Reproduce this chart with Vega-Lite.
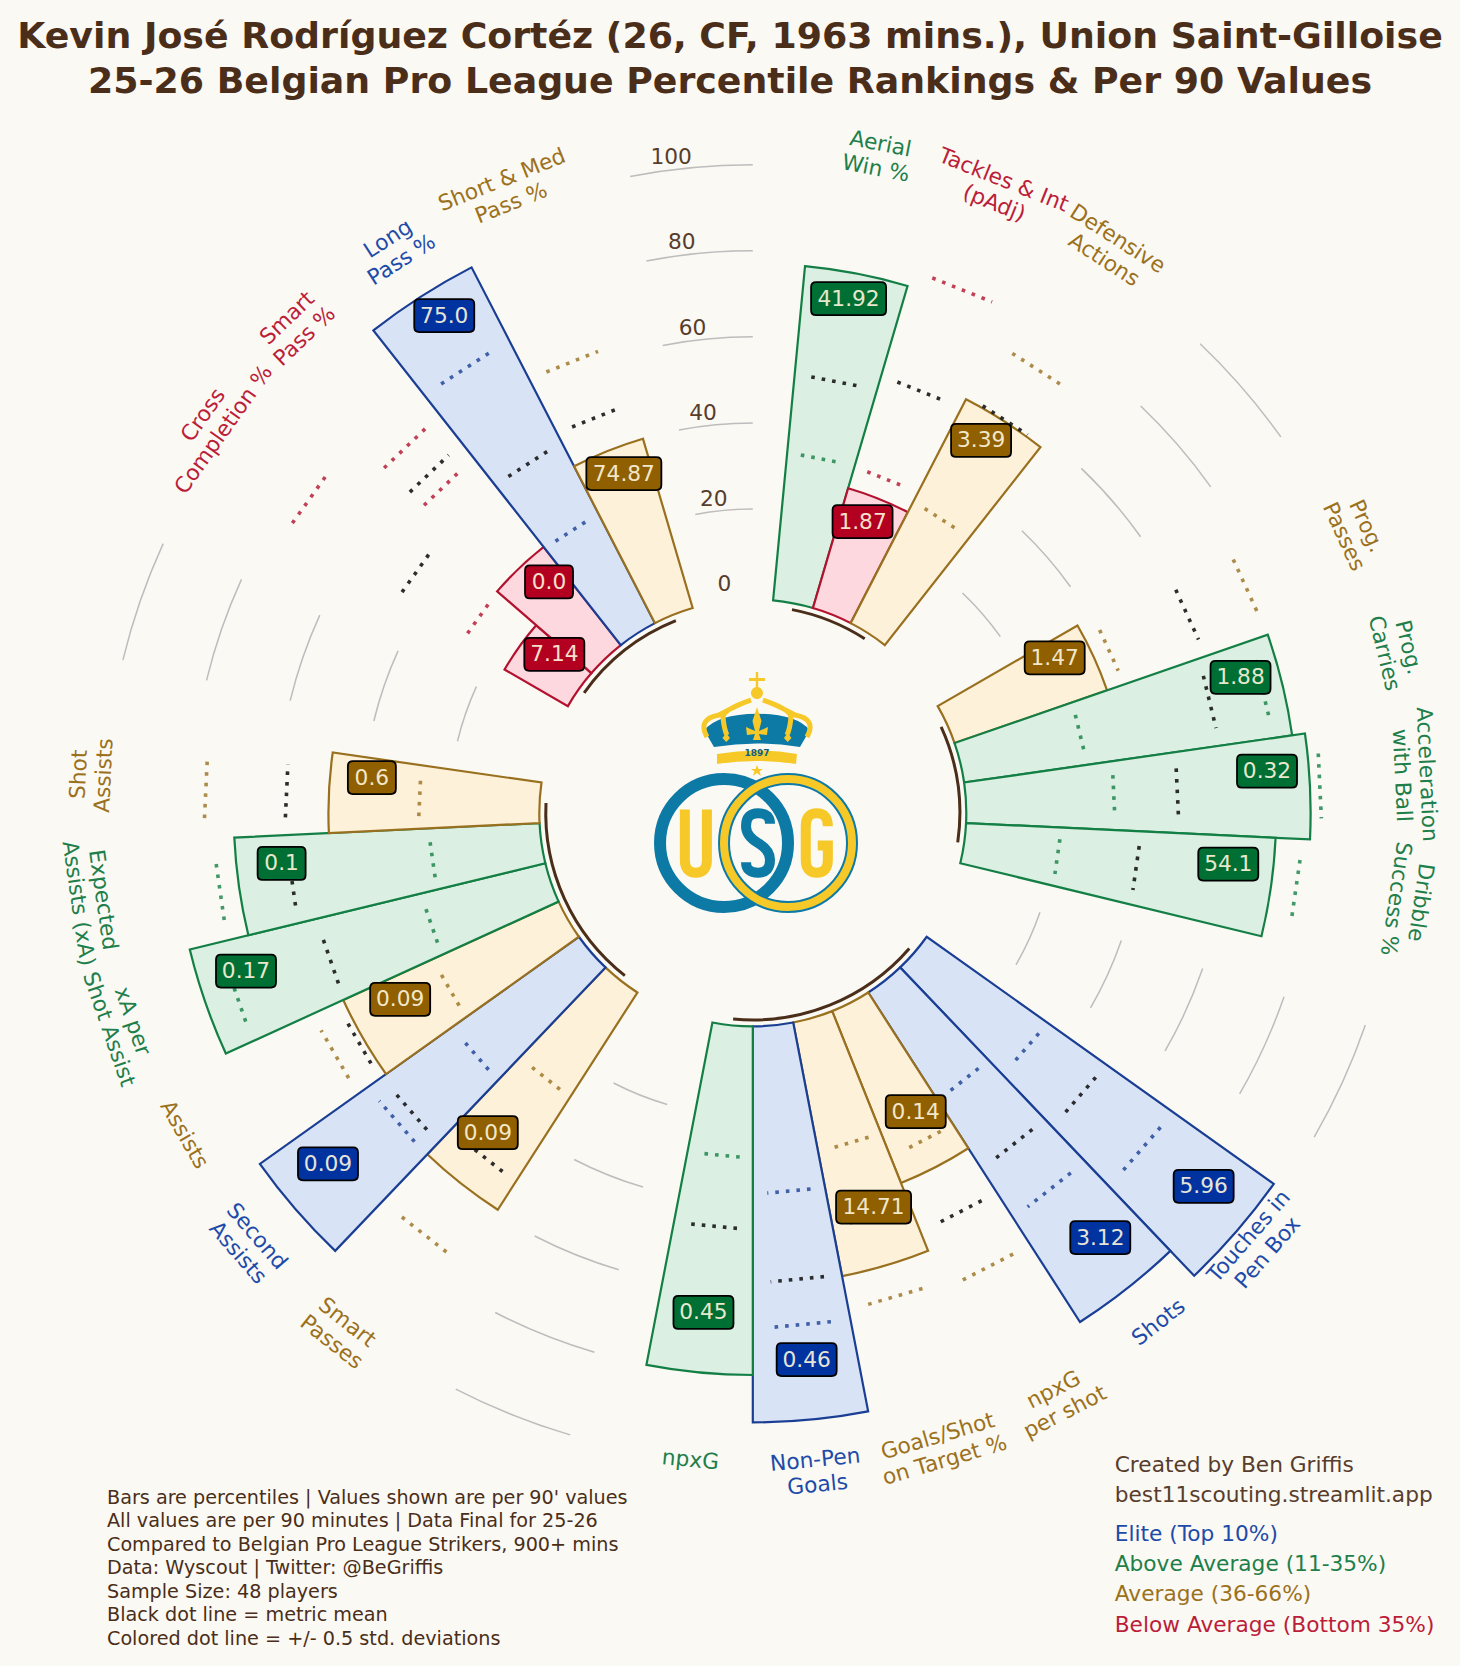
{
  "$schema": "https://vega.github.io/schema/vega-lite/v6.json",
  "width": 1460,
  "height": 1556,
  "padding": {"left": 0, "top": 110, "right": 0, "bottom": 0},
  "autosize": {"type": "none"},
  "background": "#fbf9f4",
  "title": {
    "text": ["Kevin José Rodríguez Cortéz (26, CF, 1963 mins.), Union Saint-Gilloise", "25-26 Belgian Pro League Percentile Rankings & Per 90 Values"],
    "font": "DejaVu Sans",
    "fontSize": 36.3,
    "fontWeight": "bold",
    "color": "#4a2e19",
    "anchor": "middle",
    "lineHeight": 45,
    "offset": 10
  },
  "config": {
    "view": {"stroke": null},
    "axis": {"disable": true},
    "legend": {"disable": true},
    "font": "DejaVu Sans"
  },
  "datasets": {
    "metrics": [
      {"metric": "Aerial\nWin %", "slot": 1, "value": "41.92", "pct": 77, "tier": "Above Average", "lo": 33.3, "mean": 51.6, "hi": 71},
      {"metric": "Tackles & Int\n(pAdj)", "slot": 2, "value": "1.87", "pct": 28, "tier": "Below Average", "lo": 33, "mean": 55, "hi": 80.5},
      {"metric": "Defensive\nActions", "slot": 3, "value": "3.39", "pct": 57.5, "tier": "Average", "lo": 30.6, "mean": 58, "hi": 72},
      {"metric": "Prog.\nPasses", "slot": 6, "value": "1.47", "pct": 36.5, "tier": "Average", "lo": 40.5, "mean": 60.5, "hi": 75.6},
      {"metric": "Prog.\nCarries", "slot": 7, "value": "1.88", "pct": 76, "tier": "Above Average", "lo": 27.7, "mean": 58.8, "hi": 71.4},
      {"metric": "Acceleration\nwith Ball", "slot": 8, "value": "0.32", "pct": 79, "tier": "Above Average", "lo": 33.5, "mean": 48.3, "hi": 81.5},
      {"metric": "Dribble\nSuccess %", "slot": 9, "value": "54.1", "pct": 71, "tier": "Above Average", "lo": 21, "mean": 39.5, "hi": 77},
      {"metric": "Touches in\nPen Box", "slot": 12, "value": "5.96", "pct": 98, "tier": "Elite", "lo": 33.3, "mean": 50, "hi": 69},
      {"metric": "Shots", "slot": 13, "value": "3.12", "pct": 90, "tier": "Elite", "lo": 28.6, "mean": 47.5, "hi": 61},
      {"metric": "npxG\nper shot", "slot": 14, "value": "0.14", "pct": 42, "tier": "Average", "lo": 35.3, "mean": 54, "hi": 68.4},
      {"metric": "Goals/Shot\non Target %", "slot": 15, "value": "14.71", "pct": 59, "tier": "Average", "lo": 29.4, "mean": 47.3, "hi": 66.7},
      {"metric": "Non-Pen\nGoals", "slot": 16, "value": "0.46", "pct": 91, "tier": "Elite", "lo": 37.8, "mean": 58.4, "hi": 69},
      {"metric": "npxG", "slot": 17, "value": "0.45", "pct": 80, "tier": "Above Average", "lo": 29.4, "mean": 46, "hi": 65.4},
      {"metric": "Smart\nPasses", "slot": 20, "value": "0.09", "pct": 59, "tier": "Average", "lo": 27.7, "mean": 51, "hi": 73.8},
      {"metric": "Second\nAssists", "slot": 21, "value": "0.09", "pct": 90, "tier": "Elite", "lo": 35, "mean": 55, "hi": 59},
      {"metric": "Assists", "slot": 22, "value": "0.09", "pct": 54, "tier": "Average", "lo": 31, "mean": 55.5, "hi": 61.7},
      {"metric": "xA per\nShot Assist", "slot": 23, "value": "0.17", "pct": 84, "tier": "Above Average", "lo": 28.6, "mean": 53.5, "hi": 76.8},
      {"metric": "Expected\nAssists (xA)", "slot": 24, "value": "0.1", "pct": 70, "tier": "Above Average", "lo": 24.7, "mean": 57.8, "hi": 74.7},
      {"metric": "Shot\nAssists", "slot": 25, "value": "0.6", "pct": 48, "tier": "Average", "lo": 27, "mean": 58, "hi": 76.8},
      {"metric": "Cross\nCompletion %", "slot": 28, "value": "7.14", "pct": 16, "tier": "Below Average", "lo": 27.7, "mean": 45.7, "hi": 75.8},
      {"metric": "Smart\nPass %", "slot": 29, "value": "0.0", "pct": 28, "tier": "Below Average", "lo": 54, "mean": 58.5, "hi": 66.7},
      {"metric": "Long\nPass %", "slot": 30, "value": "75.0", "pct": 92, "tier": "Elite", "lo": 27.4, "mean": 46, "hi": 72.6},
      {"metric": "Short & Med\nPass %", "slot": 31, "value": "74.87", "pct": 40, "tier": "Average", "lo": 33.6, "mean": 48.4, "hi": 62.5}
    ],
    "grid": [
      {"from": 4, "to": 5, "level": 20}, {"from": 4, "to": 5, "level": 40}, {"from": 4, "to": 5, "level": 60}, {"from": 4, "to": 5, "level": 80}, {"from": 4, "to": 5, "level": 100},
      {"from": 10, "to": 11, "level": 20}, {"from": 10, "to": 11, "level": 40}, {"from": 10, "to": 11, "level": 60}, {"from": 10, "to": 11, "level": 80}, {"from": 10, "to": 11, "level": 100},
      {"from": 18, "to": 19, "level": 20}, {"from": 18, "to": 19, "level": 40}, {"from": 18, "to": 19, "level": 60}, {"from": 18, "to": 19, "level": 80}, {"from": 18, "to": 19, "level": 100},
      {"from": 26, "to": 27, "level": 20}, {"from": 26, "to": 27, "level": 40}, {"from": 26, "to": 27, "level": 60}, {"from": 26, "to": 27, "level": 80}, {"from": 26, "to": 27, "level": 100},
      {"from": 32, "to": 33, "level": 20}, {"from": 32, "to": 33, "level": 40}, {"from": 32, "to": 33, "level": 60}, {"from": 32, "to": 33, "level": 80}, {"from": 32, "to": 33, "level": 100}
    ],
    "groups": [
      {"from": 1, "to": 3},
      {"from": 6, "to": 9},
      {"from": 12, "to": 17},
      {"from": 20, "to": 25},
      {"from": 28, "to": 31}
    ],
    "ticks": [{"tick": 0}, {"tick": 20}, {"tick": 40}, {"tick": 60}, {"tick": 80}, {"tick": 100}],
    "key": [
      {"tier": "Elite", "label": "Elite (Top 10%)", "rank": 0},
      {"tier": "Above Average", "label": "Above Average (11-35%)", "rank": 1},
      {"tier": "Average", "label": "Average (36-66%)", "rank": 2},
      {"tier": "Below Average", "label": "Below Average (Bottom 35%)", "rank": 3}
    ]
  },
  "layer": [
    {
      "data": {"name": "grid"},
      "mark": {"type": "arc", "filled": false, "stroke": "#bdbdbd", "strokeWidth": 1.5},
      "encoding": {
        "x": {"datum": 0, "type": "quantitative", "scale": {"domain": [-174.93, 164.33], "nice": false, "zero": false}},
        "y": {"datum": 0, "type": "quantitative", "scale": {"domain": [-198.23, 163.33], "nice": false, "zero": false}},
        "theta": {"field": "from", "type": "quantitative", "stack": null, "scale": {"type": "linear", "domain": [0, 33], "range": [0, 6.283185]}},
        "theta2": {"field": "to"},
        "radius": {"field": "level", "type": "quantitative", "scale": {"type": "linear", "domain": [-1, 100], "range": [213.5, 648.2]}},
        "radius2": {"field": "level"}
      }
    },
    {
      "data": {"name": "ticks"},
      "transform": [
        {"calculate": "(datum.tick + 53.6) * sin(-0.65 * 2 * PI / 33)", "as": "tx"},
        {"calculate": "(datum.tick + 53.6) * cos(-0.65 * 2 * PI / 33)", "as": "ty"}
      ],
      "mark": {"type": "text", "fontSize": 21.7, "color": "#4a2e19", "opacity": 0.92, "align": "center", "baseline": "middle"},
      "encoding": {
        "x": {"field": "tx", "type": "quantitative"},
        "y": {"field": "ty", "type": "quantitative"},
        "text": {"field": "tick", "type": "nominal"}
      }
    },
    {
      "data": {"name": "metrics"},
      "transform": [
        {"calculate": "datum.slot - 0.5", "as": "start"},
        {"calculate": "datum.slot + 0.5", "as": "end"}
      ],
      "mark": {"type": "arc", "strokeWidth": 2.2},
      "encoding": {
        "x": {"datum": 0, "type": "quantitative"},
        "y": {"datum": 0, "type": "quantitative"},
        "theta": {"field": "start", "type": "quantitative", "stack": null},
        "theta2": {"field": "end"},
        "radius": {"field": "pct", "type": "quantitative"},
        "radius2": {"datum": -1},
        "fill": {"field": "tier", "type": "nominal", "scale": {"domain": ["Elite", "Above Average", "Average", "Below Average"], "range": ["#d8e3f6", "#dbefe2", "#fef1d9", "#fdd8de"]}},
        "stroke": {"field": "tier", "type": "nominal", "scale": {"domain": ["Elite", "Above Average", "Average", "Below Average"], "range": ["#1a3e94", "#137f45", "#98701f", "#b3122f"]}}
      }
    },
    {
      "data": {"name": "groups"},
      "mark": {"type": "arc", "filled": false, "stroke": "#4a2e19", "strokeWidth": 3},
      "encoding": {
        "x": {"datum": 0, "type": "quantitative"},
        "y": {"datum": 0, "type": "quantitative"},
        "theta": {"field": "from", "type": "quantitative", "stack": null},
        "theta2": {"field": "to"},
        "radius": {"datum": -2.5},
        "radius2": {"datum": -2.5}
      }
    },
    {
      "data": {"name": "metrics"},
      "transform": [
        {"fold": ["lo", "hi"], "as": ["kind", "level"]},
        {"calculate": "(datum.level + 50.62) * sin((datum.slot - 0.3) * 2 * PI / 33)", "as": "x0"},
        {"calculate": "(datum.level + 50.62) * cos((datum.slot - 0.3) * 2 * PI / 33)", "as": "y0"},
        {"calculate": "(datum.level + 50.62) * sin((datum.slot + 0.3) * 2 * PI / 33)", "as": "x1"},
        {"calculate": "(datum.level + 50.62) * cos((datum.slot + 0.3) * 2 * PI / 33)", "as": "y1"}
      ],
      "mark": {"type": "rule", "strokeWidth": 3.6, "strokeDash": [3.6, 7], "opacity": 0.8},
      "encoding": {
        "x": {"field": "x0", "type": "quantitative"},
        "y": {"field": "y0", "type": "quantitative"},
        "x2": {"field": "x1"},
        "y2": {"field": "y1"},
        "stroke": {"field": "tier", "type": "nominal"}
      }
    },
    {
      "data": {"name": "metrics"},
      "transform": [
        {"calculate": "(datum.mean + 50.62) * sin((datum.slot - 0.3) * 2 * PI / 33)", "as": "x0"},
        {"calculate": "(datum.mean + 50.62) * cos((datum.slot - 0.3) * 2 * PI / 33)", "as": "y0"},
        {"calculate": "(datum.mean + 50.62) * sin((datum.slot + 0.3) * 2 * PI / 33)", "as": "x1"},
        {"calculate": "(datum.mean + 50.62) * cos((datum.slot + 0.3) * 2 * PI / 33)", "as": "y1"}
      ],
      "mark": {"type": "rule", "strokeWidth": 3.6, "strokeDash": [3.6, 7], "color": "#222222", "opacity": 0.95},
      "encoding": {
        "x": {"field": "x0", "type": "quantitative"},
        "y": {"field": "y0", "type": "quantitative"},
        "x2": {"field": "x1"},
        "y2": {"field": "y1"}
      }
    },
    {
      "data": {"name": "metrics"},
      "transform": [
        {"calculate": "(datum.pct + 40.62) * sin(datum.slot * 2 * PI / 33)", "as": "lx"},
        {"calculate": "(datum.pct + 40.62) * cos(datum.slot * 2 * PI / 33) + 4", "as": "ly"},
        {"calculate": "length(datum.value)", "as": "chars"}
      ],
      "layer": [
        {
          "mark": {"type": "point", "filled": true, "size": 10000, "stroke": "#000000", "strokeWidth": 1.8, "opacity": 1},
          "encoding": {
            "x": {"field": "lx", "type": "quantitative"},
            "y": {"field": "ly", "type": "quantitative"},
            "color": {"field": "tier", "type": "nominal", "scale": {"domain": ["Elite", "Above Average", "Average", "Below Average"], "range": ["#0033a0", "#006f33", "#8f5f00", "#b30020"]}},
            "shape": {
              "field": "chars",
              "type": "nominal",
              "scale": {
                "domain": [3, 4, 5],
                "range": [
                  "M-0.38,-0.33H0.38Q0.48,-0.33 0.48,-0.23V0.23Q0.48,0.33 0.38,0.33H-0.38Q-0.48,0.33 -0.48,0.23V-0.23Q-0.48,-0.33 -0.38,-0.33Z",
                  "M-0.5,-0.33H0.5Q0.6,-0.33 0.6,-0.23V0.23Q0.6,0.33 0.5,0.33H-0.5Q-0.6,0.33 -0.6,0.23V-0.23Q-0.6,-0.33 -0.5,-0.33Z",
                  "M-0.65,-0.33H0.65Q0.75,-0.33 0.75,-0.23V0.23Q0.75,0.33 0.65,0.33H-0.65Q-0.75,0.33 -0.75,0.23V-0.23Q-0.75,-0.33 -0.65,-0.33Z"
                ]
              }
            }
          }
        },
        {
          "mark": {"type": "text", "fontSize": 21.7, "color": "#fbf3dc", "opacity": 0.92, "align": "center", "baseline": "middle"},
          "encoding": {
            "x": {"field": "lx", "type": "quantitative"},
            "y": {"field": "ly", "type": "quantitative"},
            "text": {"field": "value", "type": "nominal"}
          }
        }
      ]
    },
    {
      "data": {"name": "metrics"},
      "transform": [
        {"calculate": "datum.slot <= 10 || datum.slot >= 24.5 ? 156.8 : 152.5", "as": "mr"},
        {"calculate": "datum.mr * sin(datum.slot * 2 * PI / 33)", "as": "mx"},
        {"calculate": "datum.mr * cos(datum.slot * 2 * PI / 33) + 1.5", "as": "my"}
      ],
      "mark": {"type": "text", "fontSize": 21.7, "lineBreak": "\n", "lineHeight": 25, "align": "center", "baseline": "middle", "opacity": 0.88},
      "encoding": {
        "x": {"field": "mx", "type": "quantitative"},
        "y": {"field": "my", "type": "quantitative"},
        "text": {"field": "metric", "type": "nominal"},
        "color": {"field": "tier", "type": "nominal"},
        "angle": {"field": "slot", "type": "quantitative", "scale": {"type": "linear", "domain": [0, 10, 10.01, 24.5, 24.51, 33], "range": [0, 109.09, -70.8, 87.3, -92.6, 0]}}
      }
    },
    {
      "data": {"values": [{"part": "note"}]},
      "mark": {"type": "text", "fontSize": 19.2, "lineHeight": 23.5, "lineBreak": "\n", "align": "left", "baseline": "top", "color": "#4a2e19"},
      "encoding": {
        "x": {"datum": -150.07, "type": "quantitative"},
        "y": {"datum": -157.05, "type": "quantitative"},
        "text": {"value": "Bars are percentiles | Values shown are per 90' values\nAll values are per 90 minutes | Data Final for 25-26\nCompared to Belgian Pro League Strikers, 900+ mins\nData: Wyscout | Twitter: @BeGriffis\nSample Size: 48 players\nBlack dot line = metric mean\nColored dot line = +/- 0.5 std. deviations"}
      }
    },
    {
      "data": {"values": [{"part": "credit"}]},
      "mark": {"type": "text", "fontSize": 21.7, "lineHeight": 30, "lineBreak": "\n", "align": "left", "baseline": "top", "color": "#4a2e19", "opacity": 0.92},
      "encoding": {
        "x": {"datum": 84.1, "type": "quantitative"},
        "y": {"datum": -149.1, "type": "quantitative"},
        "text": {"value": "Created by Ben Griffis\nbest11scouting.streamlit.app"}
      }
    },
    {
      "data": {"name": "key"},
      "transform": [{"calculate": "-167.55 - datum.rank * 7.03", "as": "ky"}],
      "mark": {"type": "text", "fontSize": 21.7, "align": "left", "baseline": "middle", "opacity": 0.88},
      "encoding": {
        "x": {"datum": 84.1, "type": "quantitative"},
        "y": {"field": "ky", "type": "quantitative"},
        "text": {"field": "label", "type": "nominal"},
        "color": {"field": "tier", "type": "nominal"}
      }
    },
    {
      "data": {"values": [{"part": "logo"}]},
      "layer": [
        {
          "mark": {"type": "point", "shape": "M-0.527,0.033 Q-0.4,-0.13 0,-0.133 Q0.4,-0.13 0.527,0.033 L0.43,0.2 Q0,0.13 -0.43,0.2 Z", "size": 40000, "filled": true, "color": "#0d7aa6", "opacity": 1},
          "encoding": {"x": {"datum": 0.97, "type": "quantitative"}, "y": {"datum": 19.96, "type": "quantitative"}}
        },
        {
          "mark": {"type": "point", "shape": "M-0.5,0.1 Q-0.6,-0.08 -0.38,-0.12 Q-0.2,-0.22 -0.06,-0.27 Q-0.33,-0.18 -0.34,-0.1 Q-0.33,0.02 -0.3,0.08 M0.5,0.1 Q0.6,-0.08 0.38,-0.12 Q0.2,-0.22 0.06,-0.27 Q0.33,-0.18 0.34,-0.1 Q0.33,0.02 0.3,0.08", "size": 40000, "filled": false, "color": "#f6c929", "strokeWidth": 5, "opacity": 1},
          "encoding": {"x": {"datum": 0.97, "type": "quantitative"}, "y": {"datum": 19.96, "type": "quantitative"}}
        },
        {
          "mark": {"type": "point", "shape": "M-0.06,-0.34 A0.06,0.06 0 1 1 0.06,-0.34 A0.06,0.06 0 1 1 -0.06,-0.34Z M-0.012,-0.55 H0.012 V-0.4 H-0.012Z M-0.08,-0.49 H0.08 V-0.46 H-0.08Z M0,-0.2 L0.045,-0.06 L0.02,0.04 L0.11,0 L0.1,0.08 L0.02,0.07 L0.04,0.13 L-0.04,0.13 L-0.02,0.07 L-0.1,0.08 L-0.11,0 L-0.02,0.04 L-0.045,-0.06Z M-0.4,0.27 Q0,0.2 0.4,0.27 L0.39,0.37 Q0,0.31 -0.4,0.37Z M0,0.38 L0.015,0.42 L0.06,0.42 L0.025,0.445 L0.04,0.49 L0,0.46 L-0.04,0.49 L-0.025,0.445 L-0.06,0.42 L-0.015,0.42Z M-0.307,0.06 L-0.27,0.11 L-0.307,0.15 L-0.345,0.11Z M0.307,0.06 L0.345,0.11 L0.307,0.15 L0.27,0.11Z", "size": 40000, "filled": true, "color": "#f6c929", "opacity": 1},
          "encoding": {"x": {"datum": 0.97, "type": "quantitative"}, "y": {"datum": 19.96, "type": "quantitative"}}
        },
        {
          "mark": {"type": "text", "text": "1897", "fontSize": 9, "fontWeight": "bold", "color": "#0d5f85", "align": "center", "baseline": "middle"},
          "encoding": {"x": {"datum": 0.97, "type": "quantitative"}, "y": {"datum": 13.9, "type": "quantitative"}}
        },
        {
          "mark": {"type": "point", "shape": "circle", "size": 16384, "filled": false, "color": "#0d7aa6", "strokeWidth": 12, "opacity": 1},
          "encoding": {"x": {"datum": 8.18, "type": "quantitative"}, "y": {"datum": -6.99, "type": "quantitative"}}
        },
        {
          "mark": {"type": "point", "shape": "circle", "size": 16384, "filled": false, "color": "#0d7aa6", "strokeWidth": 12, "opacity": 1},
          "encoding": {"x": {"datum": -6.69, "type": "quantitative"}, "y": {"datum": -6.99, "type": "quantitative"}}
        },
        {
          "mark": {"type": "point", "shape": "circle", "size": 16384, "filled": false, "color": "#f6c929", "strokeWidth": 8, "opacity": 1},
          "encoding": {"x": {"datum": 8.18, "type": "quantitative"}, "y": {"datum": -6.99, "type": "quantitative"}}
        },
        {
          "mark": {"type": "point", "shape": "M-0.23,-0.7 V0.35 Q-0.23,0.62 0,0.62 Q0.23,0.62 0.23,0.35 V-0.7", "size": 9216, "filled": false, "color": "#f6c929", "strokeWidth": 10, "opacity": 1},
          "encoding": {"x": {"datum": -13.23, "type": "quantitative"}, "y": {"datum": -6.99, "type": "quantitative"}}
        },
        {
          "mark": {"type": "point", "shape": "M0.25,-0.4 Q0.25,-0.62 0,-0.62 Q-0.25,-0.62 -0.25,-0.35 Q-0.25,-0.15 0,0 Q0.25,0.15 0.25,0.35 Q0.25,0.62 0,0.62 Q-0.25,0.62 -0.25,0.4", "size": 9216, "filled": false, "color": "#0d7aa6", "strokeWidth": 10, "opacity": 1},
          "encoding": {"x": {"datum": 1.21, "type": "quantitative"}, "y": {"datum": -6.99, "type": "quantitative"}}
        },
        {
          "mark": {"type": "point", "shape": "M0.23,-0.35 Q0.23,-0.62 0,-0.62 Q-0.23,-0.62 -0.23,-0.35 V0.35 Q-0.23,0.62 0,0.62 Q0.23,0.62 0.23,0.35 V0.05 H0.02", "size": 9216, "filled": false, "color": "#f6c929", "strokeWidth": 10, "opacity": 1},
          "encoding": {"x": {"datum": 14.87, "type": "quantitative"}, "y": {"datum": -6.99, "type": "quantitative"}}
        }
      ]
    }
  ]
}
